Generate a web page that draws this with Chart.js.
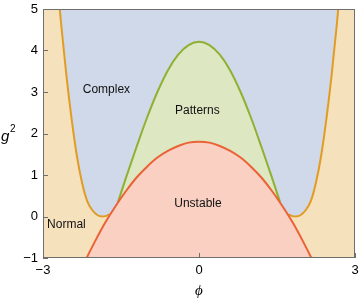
<!DOCTYPE html>
<html>
<head>
<meta charset="utf-8">
<script src="https://cdn.jsdelivr.net/npm/chart.js@4.4.1/dist/chart.umd.min.js"></script>
<style>
  html, body { margin: 0; padding: 0; background: #fff; }
  #wrap { position: relative; width: 360px; height: 300px; }
</style>
</head>
<body>
<div id="wrap"><canvas id="chart"></canvas></div>
<script>
"use strict";

// curves (phi, g^2)
var phiRed = [-3, -2.8, -2.6, -2.4, -2.2, -2, -1.8, -1.6, -1.4, -1.2, -1, -0.8, -0.6, -0.4, -0.2, 0,
  0.2, 0.4, 0.6, 0.8, 1, 1.2, 1.4, 1.6, 1.8, 2, 2.2, 2.4, 2.6, 2.8, 3];
var gRed = [-3.6, -2.9, -2.26, -1.66, -1.1, -0.6, -0.14, 0.26, 0.62, 0.94, 1.2, 1.42, 1.58, 1.7, 1.78, 1.8,
  1.78, 1.7, 1.58, 1.42, 1.2, 0.94, 0.62, 0.26, -0.14, -0.6, -1.1, -1.66, -2.26, -2.9, -3.6];

var phiGreen = [-1.56, -1.4, -1.2, -1, -0.8, -0.6, -0.4, -0.2, 0, 0.2, 0.4, 0.6, 0.8, 1, 1.2, 1.4, 1.56];
var gGreen = [0.34, 0.95, 1.68, 2.38, 3.0, 3.52, 3.9, 4.13, 4.21, 4.13, 3.9, 3.52, 3.0, 2.38, 1.68, 0.95, 0.34];

var phiOrangeLeft = [-3, -2.85, -2.75, -2.65, -2.55, -2.45, -2.35, -2.25, -2.15, -2.05, -1.95, -1.86, -1.8, -1.73];
var gOrangeLeft = [10, 7.5, 6.0, 4.62, 3.4, 2.35, 1.47, 0.82, 0.37, 0.15, 0.03, 0, 0.01, 0.05];
var phiOrangeRight = [1.73, 1.8, 1.86, 1.95, 2.05, 2.15, 2.25, 2.35, 2.45, 2.55, 2.65, 2.75, 2.85, 3];
var gOrangeRight = [0.05, 0.01, 0, 0.03, 0.15, 0.37, 0.82, 1.47, 2.35, 3.4, 4.62, 6.0, 7.5, 10];

var xTicks = [-3, 0, 3];
var yTicks = [-1, 0, 1, 2, 3, 4, 5];

var regionLabels = [
  { text: "Complex", phi: -1.78, g: 3.05 },
  { text: "Patterns", phi: -0.03, g: 2.55 },
  { text: "Unstable", phi: -0.02, g: 0.3 },
  { text: "Normal", phi: -2.55, g: -0.2 }
];

var COLORS = {
  orange: "#e19c24", green: "#8fb032", red: "#eb6235",
  tan: "rgb(246,225,189)", blue: "rgb(207,217,233)",
  greenFill: "rgb(221,231,194)", redFill: "rgb(249,208,194)",
  frame: "#6e6e6e"
};

function pts(xs, ys) {
  var out = [];
  for (var i = 0; i < xs.length; i++) out.push({ x: xs[i], y: ys[i] });
  return out;
}

// lower edge of the complex region: orange outside, red in the gap, green inside
function complexEdge() {
  var out = pts(phiOrangeLeft, gOrangeLeft);
  var i;
  for (i = 0; i < phiRed.length; i++) {
    if (phiRed[i] > -1.73 && phiRed[i] < -1.56) out.push({ x: phiRed[i], y: gRed[i] });
  }
  out = out.concat(pts(phiGreen, gGreen));
  for (i = 0; i < phiRed.length; i++) {
    if (phiRed[i] > 1.56 && phiRed[i] < 1.73) out.push({ x: phiRed[i], y: gRed[i] });
  }
  return out.concat(pts(phiOrangeRight, gOrangeRight));
}

function minus(v) {
  return String(v).replace("-", "\u2212");
}

// chart area is set by layout.padding only
function noLabelPadding(scale) {
  scale.paddingTop = 0;
  scale.paddingBottom = 0;
  scale.paddingLeft = 0;
  scale.paddingRight = 0;
}

var framePlugin = {
  id: "frame",
  beforeDatasetsDraw: function (chart) {
    var a = chart.chartArea, ctx = chart.ctx;
    ctx.save();
    ctx.fillStyle = COLORS.tan;
    ctx.fillRect(a.left, a.top, a.right - a.left, a.bottom - a.top);
    ctx.restore();
  },
  afterDatasetsDraw: function (chart) {
    var a = chart.chartArea, ctx = chart.ctx;
    var xs = chart.scales.x, ys = chart.scales.y;
    ctx.save();
    ctx.strokeStyle = COLORS.frame;
    ctx.lineWidth = 1;
    ctx.strokeRect(a.left + 0.5, a.top + 0.5, a.right - a.left - 1, a.bottom - a.top - 1);
    ctx.beginPath();
    yTicks.forEach(function (v) {
      var p = Math.round(ys.getPixelForValue(v)) + 0.5;
      ctx.moveTo(a.left, p);
      ctx.lineTo(a.left + 5, p);
    });
    xTicks.forEach(function (v) {
      var p = Math.round(xs.getPixelForValue(v)) + 0.5;
      ctx.moveTo(p, a.bottom);
      ctx.lineTo(p, a.bottom - 5);
    });
    ctx.stroke();

    ctx.fillStyle = "#111";
    ctx.font = '12px "Liberation Sans", Arial, sans-serif';
    ctx.textAlign = "center";
    ctx.textBaseline = "middle";
    regionLabels.forEach(function (l) {
      ctx.fillText(l.text, xs.getPixelForValue(l.phi), ys.getPixelForValue(l.g));
    });

    // axis titles
    ctx.fillStyle = "#000";
    ctx.font = 'italic 15px "Liberation Serif", serif';
    ctx.fillText("\u03d5", (a.left + a.right) / 2, a.bottom + 33);
    ctx.font = 'italic 15px "Liberation Sans", Arial, sans-serif';
    ctx.textAlign = "left";
    ctx.fillText("g", 1, (a.top + a.bottom) / 2 + 3);
    ctx.font = '10px "Liberation Sans", Arial, sans-serif';
    ctx.fillText("2", 10, (a.top + a.bottom) / 2 - 4);
    ctx.restore();
  }
};

Chart.defaults.font.family = '"Liberation Sans", Arial, sans-serif';
Chart.defaults.font.size = 13;
Chart.defaults.color = "#000";

var ctx = document.getElementById("chart");
var chart = new Chart(ctx, {
  type: "line",
  data: {
    datasets: [
      {
        label: "unstable",
        data: pts(phiRed, gRed),
        borderColor: COLORS.red,
        borderWidth: 2,
        backgroundColor: COLORS.redFill,
        fill: "start",
        order: 1
      },
      {
        label: "normal left",
        data: pts(phiOrangeLeft, gOrangeLeft),
        borderColor: COLORS.orange,
        borderWidth: 2,
        fill: false,
        order: 2
      },
      {
        label: "normal right",
        data: pts(phiOrangeRight, gOrangeRight),
        borderColor: COLORS.orange,
        borderWidth: 2,
        fill: false,
        order: 2
      },
      {
        label: "patterns",
        data: pts(phiGreen, gGreen),
        borderColor: COLORS.green,
        borderWidth: 2,
        backgroundColor: COLORS.greenFill,
        fill: "start",
        order: 3
      },
      {
        label: "complex",
        data: complexEdge(),
        borderWidth: 0,
        borderColor: "rgba(0,0,0,0)",
        backgroundColor: COLORS.blue,
        fill: "end",
        order: 4
      }
    ]
  },
  options: {
    responsive: true,
    maintainAspectRatio: false,
    animation: false,
    events: [],
    layout: { padding: { top: 9, right: 5, left: 0, bottom: 0 } },
    elements: {
      point: { radius: 0 },
      line: { cubicInterpolationMode: "monotone" }
    },
    plugins: {
      legend: { display: false },
      tooltip: { enabled: false }
    },
    scales: {
      x: {
        type: "linear",
        min: -3,
        max: 3,
        afterFit: function (scale) {
          scale.height = 42;
          noLabelPadding(scale);
        },
        afterBuildTicks: function (scale) {
          scale.ticks = xTicks.map(function (v) { return { value: v }; });
        },
        ticks: {
          padding: 5,
          maxRotation: 0,
          callback: function (v) { return minus(v); }
        },
        grid: { display: true, drawOnChartArea: false, drawTicks: false },
        border: { display: false }
      },
      y: {
        type: "linear",
        min: -1,
        max: 5,
        afterFit: function (scale) {
          scale.width = 43;
          noLabelPadding(scale);
        },
        afterBuildTicks: function (scale) {
          scale.ticks = yTicks.map(function (v) { return { value: v }; });
        },
        ticks: {
          padding: 5,
          callback: function (v) { return minus(v); }
        },
        grid: { display: true, drawOnChartArea: false, drawTicks: false },
        border: { display: false }
      }
    }
  },
  plugins: [framePlugin]
});
</script>
</body>
</html>
